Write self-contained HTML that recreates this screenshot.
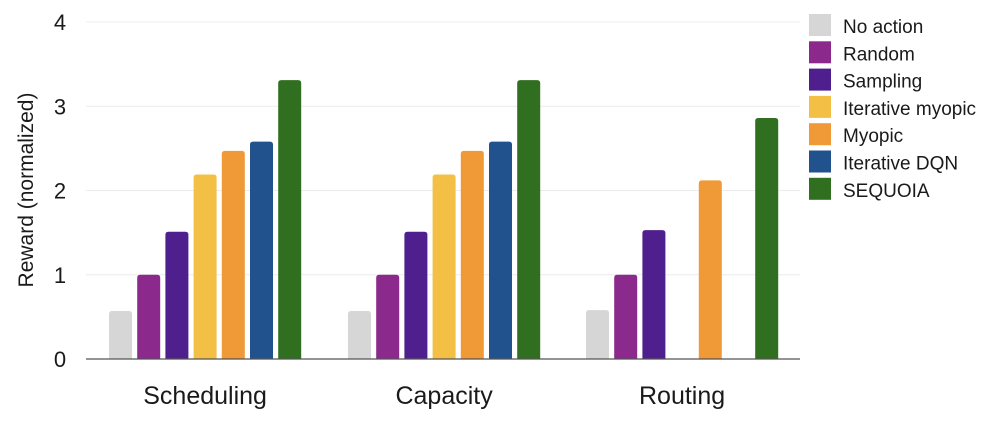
<!DOCTYPE html>
<html><head><meta charset="utf-8"><style>
body{margin:0;background:#fff;width:1000px;height:421px;overflow:hidden;font-family:"Liberation Sans",sans-serif;}
svg text{font-family:"Liberation Sans",sans-serif;fill:#1a1a1a;}
</style></head><body>
<svg id="chart" width="1000" height="421" viewBox="0 0 1000 421" xmlns="http://www.w3.org/2000/svg">
<g id="grid"></g>
<g id="bars"></g>
<g id="axes"></g>
<text transform="translate(33,190) rotate(-90)" text-anchor="middle" font-size="21">Reward (normalized)</text>
<g id="legend"></g>
</svg>
<script>
const categories = ["Scheduling","Capacity","Routing"];
const seriesNames = ["No action","Random","Sampling","Iterative myopic","Myopic","Iterative DQN","SEQUOIA"];
const seriesColors = ["#d6d6d6","#8b2a8c","#4f1f8d","#f4bf45","#ef9a37","#22528e","#2f6f1f"];
const noAction = [0.57,0.57,0.58];
const random = [1.0,1.0,1.0];
const sampling = [1.51,1.51,1.53];
const iterMyopic = [2.19,2.19,null];
const myopic = [2.47,2.47,2.12];
const iterDQN = [2.58,2.58,null];
const sequoia = [3.31,3.31,2.86];
const yTicks = [0,1,2,3,4];
const series = [noAction,random,sampling,iterMyopic,myopic,iterDQN,sequoia];

const NS="http://www.w3.org/2000/svg";
const y0=359, yTop=22, yMax=4, xL=86, xR=800;
const yScale=v=>y0-(v/yMax)*(y0-yTop);
const groupStart=[109,348,586], barStep=28.2, barW=23;
function mk(tag,attrs,parent){const e=document.createElementNS(NS,tag);for(const k in attrs)e.setAttribute(k,attrs[k]);parent.appendChild(e);return e;}
const grid=document.getElementById('grid'), axes=document.getElementById('axes'), bars=document.getElementById('bars'), legend=document.getElementById('legend');
yTicks.forEach(t=>{
  const y=yScale(t);
  if(t>0){const l=mk('line',{x1:xL,x2:xR,y1:y,y2:y,stroke:'#ececec','stroke-width':1},grid);
  
  }
  const tx=mk('text',{x:60,y:y+8,'text-anchor':'middle','font-size':22},axes);
  tx.textContent=t;
  
  
});
const ax=mk('line',{x1:xL,x2:xR,y1:y0,y2:y0,stroke:'#555','stroke-width':1.2},axes);


categories.forEach((c,ci)=>{
  series.forEach((s,si)=>{
    const v=s[ci]; if(v==null) return;
    const x=groupStart[ci]+si*barStep, y=yScale(v);
    const r=mk('path',{d:`M${x},${y0} V${y+3} Q${x},${y} ${x+3},${y} H${x+barW-3} Q${x+barW},${y} ${x+barW},${y+3} V${y0} Z`,fill:seriesColors[si]},bars);
    
    
  });
  const cx=groupStart[ci]+(6*barStep+barW)/2;
  const t=mk('text',{x:cx,y:404,'text-anchor':'middle','font-size':25},axes);
  t.textContent=c;
  
  
});
seriesNames.forEach((n,i)=>{
  const y=14+i*27.3;
  const g=mk('g',{},legend);
  
  
  mk('rect',{x:809,y:y,width:22,height:22,fill:seriesColors[i]},g);
  const t=mk('text',{x:843,y:y+19,'font-size':19},g);
  t.textContent=n;
});
</script>
</body></html>
